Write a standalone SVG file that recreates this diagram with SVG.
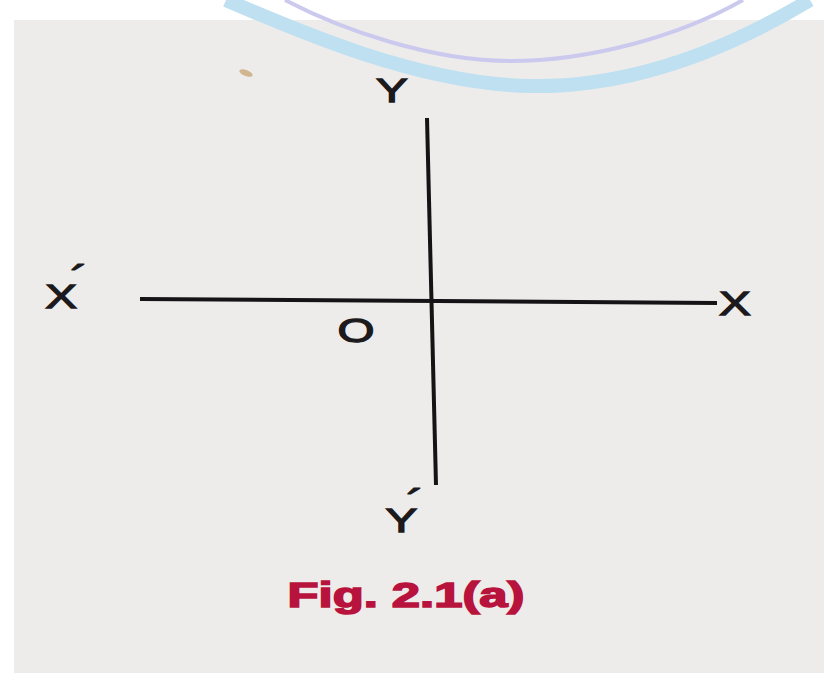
<svg xmlns="http://www.w3.org/2000/svg" width="824" height="673" viewBox="0 0 824 673">
  <style>
    .lbl { font-family: "Liberation Sans", Arial, sans-serif; font-size: 34px; fill: #1c1a1c; stroke: #1c1a1c; stroke-width: 1.3; text-anchor: middle; }
    .prime { font-family: "Liberation Sans", Arial, sans-serif; font-size: 40px; stroke-width: 1; }
    .axis { stroke: #151315; stroke-width: 4; stroke-linecap: butt; fill: none; }
    .cap { font-family: "Liberation Sans", Arial, sans-serif; font-weight: bold; font-size: 35px; fill: #b8133c; stroke: #b8133c; stroke-width: 1.6; text-anchor: middle; }
  </style>
  <rect x="0" y="0" width="824" height="673" fill="#ffffff"/>
  <rect id="paper" x="14" y="20" width="810" height="653" fill="#eeecea"/>
  <g id="watermark" fill="none">
    <path d="M226,0 C300,32 420,84 530,86 C640,88 740,42 810,0" stroke="#bee0f1" stroke-width="14"/>
    <path d="M285,0 C342,30 432,61 510,61 C590,61 680,36 743,0" stroke="#cbcaee" stroke-width="4"/>
  </g>
  <ellipse id="smudge" cx="246" cy="73" rx="7" ry="3" fill="#c9a77a" opacity="0.8" transform="rotate(20 246 73)"/>
  <g id="connectors">
    <line id="x-axis" class="axis" x1="140" y1="299" x2="717" y2="303"/>
    <line id="y-axis" class="axis" x1="427" y1="118" x2="436" y2="485"/>
  </g>
  <g id="node-Y">
    <text class="lbl" transform="translate(392,102) scale(1.4,1)">Y</text>
  </g>
  <g id="node-Xprime">
    <text class="lbl" transform="translate(67,308) scale(1.4,1)">X<tspan class="prime" dx="-5" dy="-14">´</tspan></text>
  </g>
  <g id="node-X">
    <text class="lbl" transform="translate(735,315) scale(1.4,1)">X</text>
  </g>
  <g id="node-O">
    <text class="lbl" transform="translate(356,342) scale(1.4,1)">O</text>
  </g>
  <g id="node-Yprime">
    <text class="lbl" transform="translate(405,532) scale(1.4,1)">Y<tspan class="prime" dx="-8" dy="-14">´</tspan></text>
  </g>
  <g id="caption">
    <text class="cap" transform="translate(406,607) scale(1.45,1)">Fig. 2.1(a)</text>
  </g>
</svg>
